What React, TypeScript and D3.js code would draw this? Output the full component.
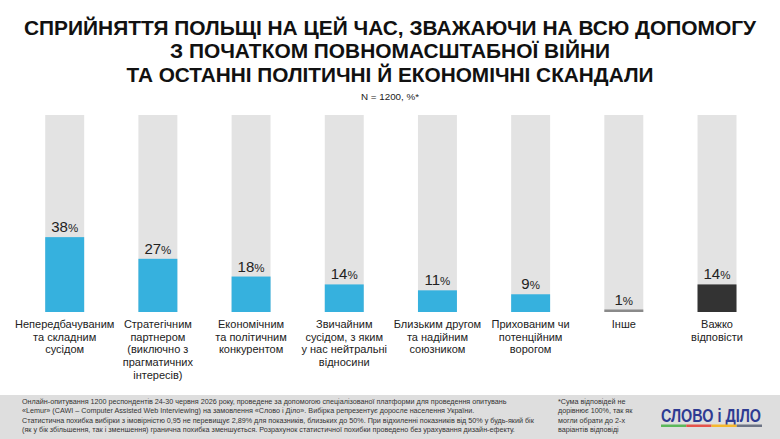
import React from 'react';
import * as d3 from 'd3';

const titleLines = [
  'СПРИЙНЯТТЯ ПОЛЬЩІ НА ЦЕЙ ЧАС, ЗВАЖАЮЧИ НА ВСЮ ДОПОМОГУ',
  'З ПОЧАТКОМ ПОВНОМАСШТАБНОЇ ВІЙНИ',
  'ТА ОСТАННІ ПОЛІТИЧНІ Й ЕКОНОМІЧНІ СКАНДАЛИ',
];
const titleWidths = [732, 440, 527];

const categories = [
  'Непередбачуваним\nта складним\nсусідом',
  'Стратегічним\nпартнером\n(виключно з\nпрагматичних\nінтересів)',
  'Економічним\nта політичним\nконкурентом',
  'Звичайним\nсусідом, з яким\nу нас нейтральні\nвідносини',
  'Близьким другом\nта надійним\nсоюзником',
  'Прихованим чи\nпотенційним\nворогом',
  'Інше',
  'Важко\nвідповісти',
];
const values = [38, 27, 18, 14, 11, 9, 1, 14];
const barColors = ['#36b1de', '#36b1de', '#36b1de', '#36b1de', '#36b1de', '#36b1de', '#8a8a8a', '#333333'];

const footerLines = [
  'Онлайн-опитування 1200 респондентів 24-30 червня 2026 року, проведене за допомогою спеціалізованої платформи для проведення опитувань',
  '«Lemur» (CAWI – Computer Assisted Web Interviewing) на замовлення «Слово і Діло». Вибірка репрезентує доросле населення України.',
  'Статистична похибка вибірки з імовірністю 0,95 не перевищує 2,89% для показників, близьких до 50%. При відхиленні показників від 50% у будь-який бік',
  '(як у бік збільшення, так і зменшення) гранична похибка зменшується. Розрахунок статистичної похибки проведено без урахування дизайн-ефекту.',
];
const noteLines = ['*Сума відповідей не', 'дорівнює 100%, так як', 'могли обрати до 2-х', 'варіантів відповіді'];
const logoStripes = ['#5cb85c', '#e5534b', '#f5b82e', '#6d7485'];

const W = 780;
const H = 439;
const font = '"Liberation Sans", Arial, sans-serif';

export default function App() {
  const x = d3.scaleBand<string>()
    .domain(categories)
    .range([18.1, 763.6])
    .paddingInner(0.582)
    .paddingOuter(0.291);
  const y = d3.scaleLinear().domain([0, 100]).range([312, 115]);
  const stripe = d3.scaleBand<string>().domain(logoStripes).range([661, 762]);

  return (
    <svg width={W} height={H} style={{ position: 'absolute', left: 0, top: 0 }} fontFamily={font}>
      <rect width={W} height={H} fill="#fff" />
      {titleLines.map((t, i) => (
        <text key={i} x={W / 2} y={34.5 + i * 23.5} textAnchor="middle" fontSize={21} fontWeight="bold"
          fill="#111" textLength={titleWidths[i]} lengthAdjust="spacingAndGlyphs"
          style={{ fontFamily: '"Liberation Sans Narrow", "Liberation Sans", Arial, sans-serif' }}>{t}</text>
      ))}
      <text x={W / 2} y={100} textAnchor="middle" fontSize={9} fill="#222" textLength={58} lengthAdjust="spacingAndGlyphs">N = 1200, %*</text>

      {categories.map((c, i) => {
        const bx = x(c)!;
        const bw = x.bandwidth();
        const cx = bx + bw / 2;
        const top = y(values[i]);
        const h = Math.max(y(0) - top, 2.5);
        return (
          <g key={i}>
            <rect x={bx} y={y(100)} width={bw} height={y(0) - y(100)} fill="#e3e3e3" />
            <rect x={bx} y={y(0) - h} width={bw} height={h} fill={barColors[i]} />
            <text x={cx} y={Math.min(top, y(0) - h) - 5} textAnchor="middle" fill="#222">
              <tspan fontSize={15}>{values[i]}</tspan><tspan fontSize={11.5}>%</tspan>
            </text>
            {c.split('\n').map((ln, j) => (
              <text key={j} x={cx} y={328 + j * 12.7} textAnchor="middle" fontSize={11} fill="#222">{ln}</text>
            ))}
          </g>
        );
      })}

      <rect x={0} y={395} width={W} height={H - 395} fill="#dedede" />
      {footerLines.map((t, i) => (
        <text key={i} x={22} y={403.5 + i * 9.6} fontSize={7.2} fill="#333">{t}</text>
      ))}
      {noteLines.map((t, i) => (
        <text key={i} x={558} y={403.5 + i * 9.6} fontSize={7.2} fill="#333">{t}</text>
      ))}
      <text x={661} y={421.5} fontSize={18} fontWeight="bold" fill="#2e3b92"
        textLength={100} lengthAdjust="spacingAndGlyphs">СЛОВО і ДІЛО</text>
      {logoStripes.map((s) => (
        <rect key={s} x={stripe(s)!} y={424.5} width={stripe.bandwidth()} height={2.5} fill={s} />
      ))}
    </svg>
  );
}
